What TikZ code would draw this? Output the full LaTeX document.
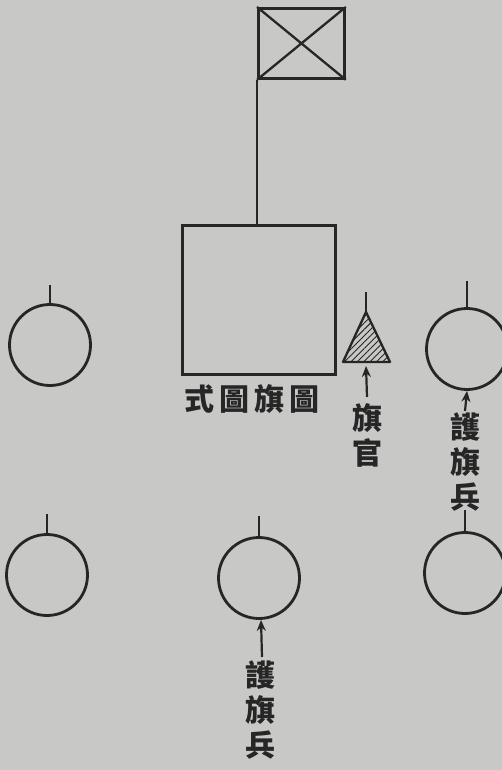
\documentclass[tikz,border=0pt]{standalone}
\usepackage{fontspec}
\newfontfamily\cjk{Noto Sans CJK TC}
\usetikzlibrary{patterns.meta,arrows.meta,calc}
\definecolor{paper}{HTML}{C8C8C6}
\definecolor{ink}{HTML}{262626}
\begin{document}
\begin{tikzpicture}[x=1pt,y=-1pt,
  ln/.style={draw=ink,line width=2.8pt},
  soldier/.style={circle,ln,minimum size=81pt,inner sep=0pt},
  lbl/.style={text=ink,font=\cjk\bfseries\fontsize{30}{35}\selectfont,align=center,inner sep=0pt},
  arr/.style={draw=ink,line width=2.2pt,-{Stealth[length=11pt,width=9pt]}}]
\fill[paper] (0,0) rectangle (502,770);
\useasboundingbox (0,0) rectangle (502,770);
% flag
\node[ln,minimum width=86pt,minimum height=70pt,inner sep=0pt,anchor=north west] (flag) at (257,7) {};
\draw[ln,line width=2.3pt] (flag.north west) -- (flag.south east) (flag.north east) -- (flag.south west);
% big square
\node[ln,minimum width=153pt,minimum height=149pt,inner sep=0pt,anchor=north west] (sq) at (181,224) {};
\coordinate (poletop) at (257,224);
\draw[ln,line width=2.4pt] (flag.south west) -- (poletop);
\node[lbl] (sqlbl) at (252,399) {式\hspace{5pt}圖\hspace{5pt}旗\hspace{5pt}圖};
% triangle (officer)
\coordinate (apex) at (366,312);
\coordinate (tl) at (343,362);
\coordinate (tr) at (390,362);
\coordinate (tpole) at (366,292);
\draw[ln,line width=2.3pt,line join=round,pattern={Lines[angle=45,distance=4.5pt,line width=0.9pt]},pattern color=ink] (tl) -- (apex) -- (tr) -- cycle;
\draw[ln,line width=2.3pt] (apex) -- (tpole);
\node[lbl,anchor=north] (offlbl) at (367,403) {旗\\官};
\coordinate (offtip) at (366,366);
\draw[arr] (offlbl.north) ++(0,-6) -- (offtip);
% soldiers
\node[soldier] (c1) at (50,345) {};
\node[soldier] (c2) at (467,349) {};
\node[soldier] (c3) at (47,575) {};
\node[soldier] (c4) at (259,578) {};
\node[soldier] (c5) at (465,573) {};
\coordinate (p1) at (50,285);
\coordinate (p2) at (467,281);
\coordinate (p3) at (47,514);
\coordinate (p4) at (259,516);
\coordinate (p5) at (465,510);
\foreach \c/\p in {c1/p1,c2/p2,c3/p3,c4/p4,c5/p5} \draw[ln,line width=2.3pt] (\c.north) -- (\p);
% labels for guards
\node[lbl,anchor=north] (g2) at (465,412) {護\\旗\\兵};
\draw[arr] (g2.north) ++(0,-1) -- (c2.south);
\node[lbl,anchor=north] (g4) at (260,660) {護\\旗\\兵};
\draw[arr] (g4.north) ++(2,-3) -- ($(c4.south)+(2,0)$);
\end{tikzpicture}
\end{document}
